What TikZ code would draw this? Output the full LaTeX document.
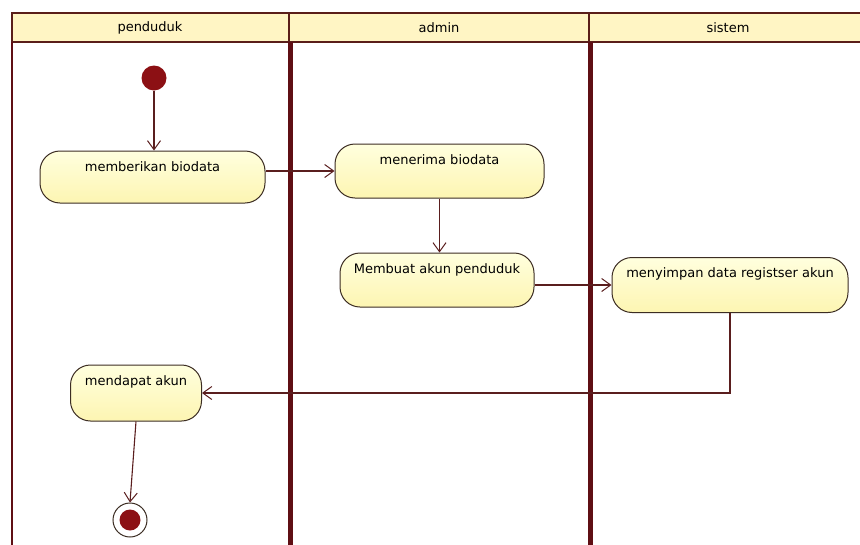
\documentclass[tikz,border=0pt]{standalone}
\usepackage{fontspec}
\setmainfont{DejaVu Sans}
\usetikzlibrary{arrows.meta}
\definecolor{lane}{RGB}{95,15,20}
\definecolor{hdrline}{RGB}{90,30,25}
\definecolor{hdrfill}{RGB}{255,245,196}
\definecolor{actfill}{RGB}{255,252,200}
\definecolor{acttop}{RGB}{255,255,222}
\definecolor{actbot}{RGB}{253,245,178}
\definecolor{actline}{RGB}{60,45,35}
\definecolor{flow}{RGB}{90,30,30}
\definecolor{dot}{RGB}{140,16,20}
\tikzset{
  act/.style={draw=actline, line width=1pt, rounded corners=20pt, top color=acttop, bottom color=actbot,
    inner sep=0pt, text height=20pt, align=center, font=\fontsize{13}{15}\selectfont},
  flowarr/.style={draw=flow, line width=1.1pt, -{Straight Barb[length=9pt,width=13pt,line width=1pt]}},
  hdrtext/.style={font=\fontsize{13}{15}\selectfont, inner sep=0pt},
}
\begin{document}
\begin{tikzpicture}[x=1pt,y=-1pt]
\useasboundingbox (0,0) rectangle (860,544);
\fill[white] (0,0) rectangle (860,544);
% header
\fill[hdrfill] (11,13) rectangle (862,42);
\draw[hdrline, line width=2pt] (11,13) -- (862,13);
\draw[hdrline, line width=2.2pt] (11,42) -- (862,42);
\draw[hdrline, line width=1.6pt] (289,13) -- (289,42);
\draw[hdrline, line width=1.6pt] (589,13) -- (589,42);
\draw[hdrline, line width=2pt] (12,12) -- (12,42);
\node[hdrtext] (h1) at (150,28) {penduduk};
\node[hdrtext] (h2) at (439,28) {admin};
\node[hdrtext] (h3) at (728,28) {sistem};
% lanes
\draw[lane, line width=2.5pt] (12,42) -- (12,545);
\draw[lane, line width=5pt] (290,42) -- (290,545);
\draw[lane, line width=5pt] (590,42) -- (590,545);
% nodes
\node[circle, fill=dot, minimum size=25pt, inner sep=0pt] (init) at (154,78) {};
\node[act, minimum width=225pt, minimum height=52pt, text depth=32pt] (memb) at (152.5,177) {memberikan biodata};
\node[act, minimum width=209pt, minimum height=54pt, text depth=34pt] (mener) at (439.5,171) {menerima biodata};
\node[act, minimum width=194pt, minimum height=54pt, text depth=34pt] (buat) at (437,280) {Membuat akun penduduk};
\node[act, minimum width=236pt, minimum height=54pt, text depth=35pt] (simpan) at (730,285) {menyimpan data registser akun};
\node[act, minimum width=131pt, minimum height=56pt, text depth=36pt] (dapat) at (136,393) {mendapat akun};
\node[circle, draw=actline, fill=white, line width=1pt, minimum size=34pt, inner sep=0pt] (final) at (130,520) {};
\node[circle, fill=dot, minimum size=21pt, inner sep=0pt] (finaldot) at (final) {};
% flows
\draw[flowarr] (init) -- (init |- memb.north);
\draw[flowarr] (memb.east |- mener.west) -- (mener.west);
\draw[flowarr] (mener.south) -- (mener.south |- buat.north);
\draw[flowarr] (buat.east |- simpan.west) -- (simpan.west);
\draw[flowarr] (simpan.south) |- (dapat.east);
\draw[flowarr] (dapat.south) -- (final.north);
\end{tikzpicture}
\end{document}
